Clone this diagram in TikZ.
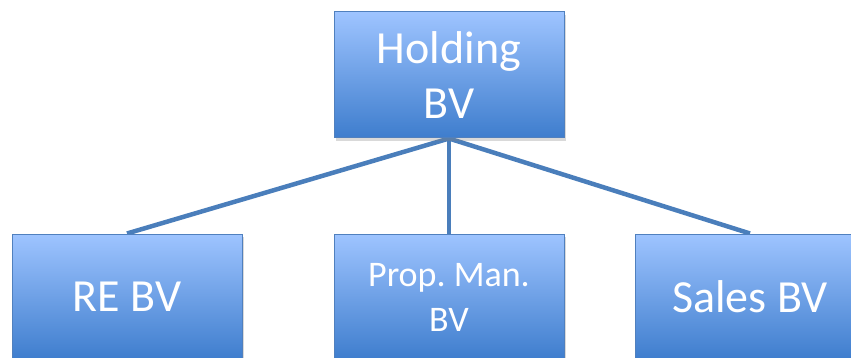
\documentclass[tikz,border=0pt]{standalone}
\usepackage{fontspec}
\setmainfont{Carlito}
\frenchspacing
\usetikzlibrary{shadows,backgrounds}
\definecolor{boxtop}{RGB}{158,196,255}
\definecolor{boxbot}{RGB}{62,125,205}
\definecolor{boxline}{RGB}{80,128,190}
\definecolor{conncol}{RGB}{74,126,187}
\begin{document}
\begin{tikzpicture}[x=1pt,y=-1pt,
  orgbox/.style={rectangle, draw=boxline, line width=1pt, top color=boxtop, bottom color=boxbot,
    minimum width=230pt, minimum height=126pt, inner sep=0pt, text=white, align=center,
    drop shadow={opacity=0.3, shadow xshift=2pt, shadow yshift=-3pt}},
  bigtext/.style={font=\fontsize{46}{55}\selectfont},
  smalltext/.style={font=\fontsize{36}{45}\selectfont},
  connector/.style={draw=conncol, line width=4.5pt}]
\useasboundingbox (0,0) rectangle (851,358);
\clip (0,0) rectangle (851,358);
\node[orgbox, bigtext] (hold) at (449,75) {Holding\\BV};
\node[orgbox, bigtext] (re) at (127,297) {RE BV};
\node[orgbox, smalltext] (prop) at (449,297) {Prop. Man.\\BV};
\node[orgbox, bigtext] (sales) at (750,297) {Sales BV};
\begin{pgfonlayer}{background}
\draw[connector] (hold.south) -- (re.north);
\draw[connector] (hold.south) -- (prop.north);
\draw[connector] (hold.south) -- (sales.north);
\end{pgfonlayer}
\end{tikzpicture}
\end{document}
